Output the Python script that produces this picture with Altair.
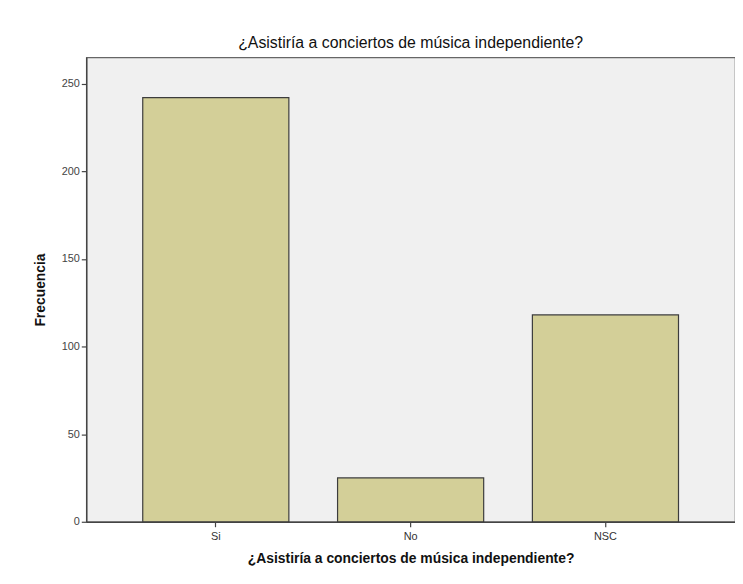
import altair as alt
import pandas as pd

categories = ["Si", "No", "NSC"]
frequencies = [242, 25, 118]
title_text = "¿Asistiría a conciertos de música independiente?"
y_ticks = [0, 50, 100, 150, 200, 250]

df = pd.DataFrame({"cat": categories, "freq": frequencies})

FONT = "Liberation Sans"

bars = alt.Chart(df).mark_bar(
    color="#D3CF98", stroke="#3C3C3C", strokeWidth=1.2
).encode(
    x=alt.X("cat:N", sort=categories,
            scale=alt.Scale(paddingInner=0.25, paddingOuter=0.29),
            axis=alt.Axis(title=title_text, labelAngle=0, tickSize=5,
                          labelFont=FONT, labelFontSize=11, labelColor="#333333",
                          titleFont=FONT, titleFontSize=14, titleFontWeight="bold",
                          titleColor="#111111", titlePadding=10,
                          domainColor="#444444", domainWidth=1.5,
                          tickColor="#444444", tickWidth=1.2, labelPadding=4)),
    y=alt.Y("freq:Q", scale=alt.Scale(domain=[0, 265], nice=False),
            axis=alt.Axis(title="Frecuencia", values=y_ticks, tickSize=5,
                          grid=False,
                          labelFont=FONT, labelFontSize=11, labelColor="#444444",
                          titleFont=FONT, titleFontSize=14, titleFontWeight="bold",
                          titleColor="#111111", titlePadding=14,
                          domainColor="#444444", domainWidth=1.5,
                          tickColor="#444444", tickWidth=1.2, labelPadding=2)),
)

chart = bars.properties(
    width=655, height=469,
    padding={"left": 25, "top": 25, "right": 0, "bottom": 5},
    title=alt.TitleParams(title_text, font=FONT, fontSize=16, fontWeight="normal",
                          color="#111111", anchor="middle", offset=6),
    background="#ffffff",
).configure_view(
    fill="#F0F0F0", stroke="#666666", strokeWidth=1.2
)

chart.save("out.html", embed_options={"renderer": "svg", "actions": False})
